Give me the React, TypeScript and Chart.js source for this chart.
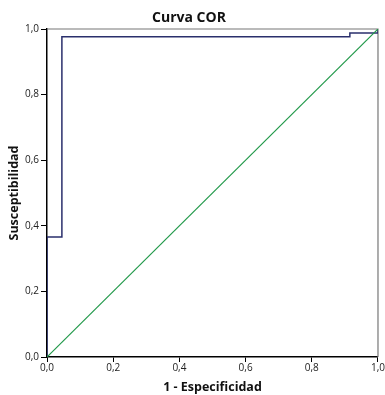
import React, { useEffect, useRef } from "react";
import { Chart, registerables } from "chart.js";

Chart.register(...registerables);

// ROC curve: false positive rate (1 - specificity) vs. sensitivity
const rocFpr = [0, 0, 0.045, 0.045, 0.915, 0.915, 1, 1];
const rocTpr = [0, 0.366, 0.366, 0.976, 0.976, 0.988, 0.988, 1];

// Reference diagonal
const refFpr = [0, 1];
const refTpr = [0, 1];

const axisTicks = [0, 0.2, 0.4, 0.6, 0.8, 1.0];

const chartTitle = "Curva COR";
const xTitle = "1 - Especificidad";
const yTitle = "Susceptibilidad";

const fontFamily = "'Open Sans', 'DejaVu Sans', sans-serif";

const fmt = (v: number) => v.toFixed(1).replace(".", ",");

// Grey frame on the top and right edges of the plot area
const frameOutline = {
  id: "frameOutline",
  beforeDatasetsDraw(chart: any) {
    const { ctx, chartArea } = chart;
    ctx.save();
    ctx.strokeStyle = "#777777";
    ctx.lineWidth = 1.2;
    ctx.beginPath();
    ctx.moveTo(chartArea.left, chartArea.top);
    ctx.lineTo(chartArea.right, chartArea.top);
    ctx.lineTo(chartArea.right, chartArea.bottom);
    ctx.stroke();
    ctx.restore();
  },
};

export default function App() {
  const canvasRef = useRef<HTMLCanvasElement | null>(null);

  useEffect(() => {
    if (!canvasRef.current) return;
    const chart = new Chart(canvasRef.current, {
      type: "scatter",
      data: {
        datasets: [
          {
            data: refFpr.map((x, i) => ({ x, y: refTpr[i] })),
            showLine: true,
            borderColor: "#22994a",
            borderWidth: 1.2,
            pointRadius: 0,
            tension: 0,
          },
          {
            data: rocFpr.map((x, i) => ({ x, y: rocTpr[i] })),
            showLine: true,
            borderColor: "#2a2f6c",
            borderWidth: 1.5,
            pointRadius: 0,
            tension: 0,
          },
        ],
      },
      options: {
        animation: false,
        responsive: false,
        maintainAspectRatio: false,
        layout: { padding: { left: 0, right: 7, top: 0, bottom: 0 } },
        plugins: {
          legend: { display: false },
          tooltip: { enabled: false },
          title: {
            display: true,
            text: chartTitle,
            color: "#111111",
            font: { family: fontFamily, size: 14, weight: "bold", lineHeight: 1.2 },
            padding: { top: 9.6, bottom: 2.6 },
          },
        },
        scales: {
          x: {
            type: "linear",
            min: 0,
            max: 1,
            afterBuildTicks: (scale: any) => {
              scale.ticks = axisTicks.map((v) => ({ value: v }));
            },
            afterFit: (scale: any) => {
              scale.height = 38;
            },
            ticks: {
              callback: (v: any) => fmt(Number(v)),
              color: "#222222",
              font: { family: fontFamily, size: 10 },
              padding: 0,
              maxRotation: 0,
            },
            grid: {
              drawOnChartArea: false,
              drawTicks: true,
              tickLength: 5,
              color: "#000000",
            },
            border: { display: true, color: "#000000", width: 1.5 },
            title: {
              display: true,
              text: xTitle,
              color: "#111111",
              font: { family: fontFamily, size: 12.5, weight: "bold", lineHeight: 1.2 },
              padding: { top: 1.5, bottom: 0 },
            },
          },
          y: {
            type: "linear",
            min: 0,
            max: 1,
            afterBuildTicks: (scale: any) => {
              scale.ticks = axisTicks.map((v) => ({ value: v }));
            },
            afterFit: (scale: any) => {
              scale.width = 47;
            },
            ticks: {
              callback: (v: any) => fmt(Number(v)),
              color: "#222222",
              font: { family: fontFamily, size: 10 },
              padding: 2,
            },
            grid: {
              drawOnChartArea: false,
              drawTicks: true,
              tickLength: 6,
              color: "#000000",
            },
            border: { display: true, color: "#000000", width: 1.5 },
            title: {
              display: true,
              text: yTitle,
              color: "#111111",
              font: { family: fontFamily, size: 12.5, weight: "bold", lineHeight: 1.2 },
              padding: { top: 6.5, bottom: 0 },
            },
          },
        },
      },
      plugins: [frameOutline],
    });
    return () => chart.destroy();
  }, []);

  return (
    <div style={{ position: "absolute", left: 0, top: 0, width: 385, height: 395, background: "#ffffff" }}>
      <canvas ref={canvasRef} width={385} height={395} style={{ display: "block" }} />
    </div>
  );
}
